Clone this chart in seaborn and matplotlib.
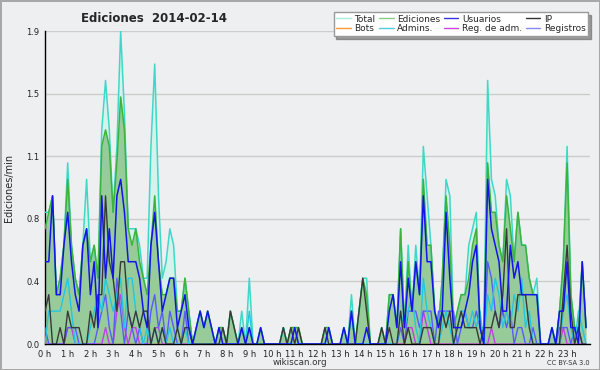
import matplotlib
matplotlib.use("Agg")
import matplotlib.pyplot as plt
from matplotlib.lines import Line2D
import numpy as np
import pandas as pd
import seaborn as sns

# ediciones/min, one value per 10-minute slot (144 slots = 24 h)
total = [
    0.8, 0.8, 0.9, 0.3, 0.4, 0.6, 1.1, 0.6, 0.4, 0.3, 0.6, 1.0,
    0.5, 0.6, 0.4, 1.3, 1.6, 1.3, 0.8, 1.2, 1.9, 1.4, 0.7, 0.7,
    0.7, 0.6, 0.4, 0.4, 1.2, 1.7, 0.9, 0.4, 0.5, 0.7, 0.6, 0.2,
    0.2, 0.4, 0.2, 0, 0.1, 0.2, 0.1, 0.2, 0.1, 0, 0.1, 0.1,
    0, 0.2, 0.1, 0, 0.2, 0, 0.4, 0, 0, 0.1, 0, 0,
    0, 0, 0, 0.1, 0, 0.1, 0.1, 0.1, 0, 0, 0, 0,
    0, 0, 0.1, 0.1, 0, 0, 0, 0.1, 0, 0.3, 0, 0.2,
    0.4, 0.4, 0, 0, 0, 0.1, 0, 0.3, 0.3, 0.1, 0.7, 0.1,
    0.6, 0.2, 0.6, 0.3, 1.2, 0.9, 0.6, 0.2, 0.1, 0.4, 1.0, 0.9,
    0.1, 0.2, 0.3, 0.3, 0.6, 0.7, 0.8, 0.1, 0.1, 1.6, 1.0, 0.9,
    0.6, 0.5, 1.0, 0.9, 0.5, 0.8, 0.6, 0.6, 0.4, 0.3, 0.4, 0,
    0, 0, 0.1, 0, 0.2, 0.5, 1.2, 0.3, 0.1, 0.1, 0.5, 0.1,
]
ediciones = [
    0.7, 0.8, 0.9, 0.3, 0.4, 0.6, 1.0, 0.6, 0.4, 0.3, 0.6, 0.7,
    0.5, 0.6, 0.4, 1.2, 1.3, 1.2, 0.8, 1.1, 1.5, 1.3, 0.7, 0.6,
    0.7, 0.5, 0.4, 0.3, 0.6, 0.9, 0.5, 0.3, 0.3, 0.4, 0.4, 0.2,
    0.2, 0.4, 0.2, 0, 0.1, 0.2, 0.1, 0.2, 0.1, 0, 0.1, 0.1,
    0, 0.2, 0.1, 0, 0.1, 0, 0.1, 0, 0, 0.1, 0, 0,
    0, 0, 0, 0.1, 0, 0.1, 0.1, 0.1, 0, 0, 0, 0,
    0, 0, 0.1, 0.1, 0, 0, 0, 0.1, 0, 0.2, 0, 0.2,
    0.4, 0.3, 0, 0, 0, 0.1, 0, 0.3, 0.3, 0.1, 0.7, 0.1,
    0.5, 0.2, 0.5, 0.3, 1.0, 0.6, 0.6, 0.2, 0.1, 0.4, 0.9, 0.6,
    0.1, 0.2, 0.3, 0.3, 0.4, 0.6, 0.7, 0.1, 0.1, 1.1, 0.8, 0.8,
    0.6, 0.5, 0.9, 0.7, 0.5, 0.8, 0.6, 0.6, 0.4, 0.3, 0.3, 0,
    0, 0, 0.1, 0, 0.2, 0.5, 1.1, 0.3, 0.1, 0.1, 0.5, 0.1,
]
usuarios = [
    0.5, 0.5, 0.9, 0.3, 0.3, 0.6, 0.8, 0.5, 0.3, 0.2, 0.6, 0.7,
    0.3, 0.5, 0.1, 0.9, 0.4, 0.7, 0.4, 0.9, 1.0, 0.8, 0.5, 0.5,
    0.5, 0.4, 0.2, 0.1, 0.6, 0.8, 0.5, 0.2, 0.3, 0.4, 0.4, 0.1,
    0.2, 0.3, 0.1, 0, 0.1, 0.2, 0.1, 0.2, 0.1, 0, 0.1, 0,
    0, 0, 0, 0, 0.1, 0, 0.1, 0, 0, 0.1, 0, 0,
    0, 0, 0, 0, 0, 0, 0.1, 0, 0, 0, 0, 0,
    0, 0, 0, 0.1, 0, 0, 0, 0.1, 0, 0.2, 0, 0,
    0, 0.1, 0, 0, 0, 0, 0, 0.2, 0.3, 0.1, 0.5, 0.1,
    0.4, 0.2, 0.5, 0.3, 0.9, 0.5, 0.5, 0.2, 0.1, 0.2, 0.8, 0.4,
    0.1, 0.1, 0.1, 0.2, 0.3, 0.5, 0.6, 0.1, 0, 1.0, 0.7, 0.6,
    0.5, 0.2, 0.2, 0.6, 0.4, 0.5, 0.3, 0.3, 0.3, 0.3, 0.3, 0,
    0, 0, 0.1, 0, 0.2, 0.2, 0.5, 0.1, 0.1, 0, 0.5, 0.1,
]
ip = [
    0.2, 0.3, 0, 0, 0.1, 0, 0.2, 0.1, 0.1, 0.1, 0, 0,
    0.2, 0.1, 0.3, 0.3, 0.9, 0.5, 0.4, 0.2, 0.5, 0.5, 0.2, 0.1,
    0.2, 0.1, 0.2, 0.2, 0, 0.1, 0, 0.1, 0, 0, 0, 0.1,
    0, 0.1, 0.1, 0, 0, 0, 0, 0, 0, 0, 0, 0.1,
    0, 0.2, 0.1, 0, 0, 0, 0, 0, 0, 0, 0, 0,
    0, 0, 0, 0.1, 0, 0.1, 0, 0.1, 0, 0, 0, 0,
    0, 0, 0.1, 0, 0, 0, 0, 0, 0, 0, 0, 0.2,
    0.4, 0.2, 0, 0, 0, 0.1, 0, 0.1, 0, 0, 0.2, 0,
    0.1, 0, 0, 0, 0.1, 0.1, 0.1, 0, 0, 0.2, 0.1, 0.2,
    0, 0.1, 0.2, 0.1, 0.1, 0.1, 0.1, 0, 0.1, 0.1, 0.1, 0.2,
    0.1, 0.3, 0.7, 0.1, 0.1, 0.3, 0.3, 0.3, 0.1, 0, 0, 0,
    0, 0, 0, 0, 0, 0.3, 0.6, 0.2, 0, 0.1, 0, 0,
]
bots = [0] * 144
admins = [
    0, 0.2, 0.2, 0.2, 0.2, 0.3, 0.4, 0.2, 0, 0, 0, 0,
    0.1, 0.2, 0.3, 0.2, 0.4, 0.3, 0.2, 0.3, 0.4, 0.1, 0.4, 0.4,
    0.2, 0.1, 0, 0.1, 0, 0.1, 0, 0.1, 0, 0.1, 0, 0,
    0, 0.1, 0, 0, 0, 0, 0, 0, 0, 0, 0, 0,
    0, 0, 0, 0, 0, 0, 0.2, 0, 0, 0, 0, 0,
    0, 0, 0, 0.1, 0, 0, 0, 0, 0, 0, 0, 0,
    0, 0, 0, 0, 0, 0, 0, 0, 0, 0.2, 0, 0,
    0, 0, 0, 0, 0, 0, 0, 0, 0, 0, 0.2, 0.1,
    0.2, 0.3, 0.1, 0, 0.4, 0.2, 0.1, 0, 0, 0.1, 0.2, 0.1,
    0, 0.1, 0.2, 0.2, 0.1, 0.2, 0.1, 0.2, 0, 0.3, 0.2, 0.4,
    0.3, 0.1, 0.2, 0.1, 0.3, 0.2, 0.4, 0.1, 0.2, 0, 0, 0,
    0, 0, 0, 0, 0, 0.2, 0.3, 0.1, 0, 0.2, 0.1, 0,
]
reg_adm = [
    0, 0, 0, 0, 0, 0, 0.1, 0.1, 0, 0, 0, 0,
    0, 0, 0, 0, 0.1, 0, 0, 0.2, 0.3, 0.1, 0, 0.1,
    0.1, 0, 0, 0, 0, 0.1, 0.1, 0, 0, 0, 0, 0,
    0, 0, 0, 0, 0, 0, 0, 0, 0, 0, 0, 0,
    0, 0, 0, 0, 0, 0, 0, 0, 0, 0, 0, 0,
    0, 0, 0, 0, 0, 0, 0, 0, 0, 0, 0, 0,
    0, 0, 0, 0, 0, 0, 0, 0, 0, 0, 0, 0,
    0, 0, 0, 0, 0, 0, 0, 0, 0, 0, 0, 0,
    0.1, 0.1, 0, 0, 0.2, 0.1, 0, 0, 0, 0, 0, 0,
    0, 0, 0, 0, 0, 0, 0, 0, 0, 0, 0.1, 0,
    0, 0, 0, 0, 0, 0, 0, 0, 0, 0, 0, 0,
    0, 0, 0, 0, 0, 0.1, 0, 0, 0, 0, 0, 0,
]
registros = [
    0.1, 0, 0, 0, 0, 0, 0.1, 0.1, 0.1, 0, 0, 0,
    0, 0, 0.1, 0.2, 0.3, 0.1, 0, 0.4, 0.2, 0, 0.2, 0.1,
    0, 0.1, 0, 0, 0.2, 0.3, 0.1, 0.2, 0, 0.2, 0.1, 0,
    0, 0.2, 0, 0, 0, 0, 0, 0, 0, 0, 0, 0,
    0, 0, 0, 0, 0, 0, 0, 0, 0, 0, 0, 0,
    0, 0, 0, 0, 0, 0, 0, 0, 0, 0, 0, 0,
    0, 0, 0, 0, 0, 0, 0, 0, 0, 0, 0, 0,
    0, 0, 0, 0, 0, 0, 0, 0, 0, 0, 0.1, 0,
    0.2, 0.2, 0.2, 0.1, 0.2, 0.2, 0.2, 0, 0.2, 0.2, 0.2, 0.2,
    0.2, 0, 0.1, 0.2, 0.1, 0.1, 0.2, 0.1, 0, 0.5, 0.4, 0.2,
    0.1, 0.2, 0.1, 0.2, 0, 0.1, 0.1, 0, 0, 0.1, 0, 0,
    0, 0, 0, 0, 0.1, 0.1, 0.1, 0, 0.1, 0.1, 0, 0,
]
hour_labels = [f"{h} h" for h in range(24)]
y_max = 1.9

df = pd.DataFrame({
    "hora": np.arange(144) / 6,
    "Total": total, "Ediciones": ediciones, "Usuarios": usuarios, "IP": ip,
    "Bots": bots, "Admins.": admins, "Reg. de adm.": reg_adm, "Registros": registros,
})

sns.set_style("white")
plt.rcParams["font.family"] = ["DejaVu Sans"]

bg = "#eeeff0"
fig = plt.figure(figsize=(6, 3.7), dpi=100, facecolor=bg)
fig.patch.set_edgecolor("#a8a8a8")
fig.patch.set_linewidth(2)
ax = fig.add_axes([0.075, 0.07, 0.908, 0.846])
ax.set_facecolor(bg)

# fills
ax.fill_between(df["hora"], 0, df["Total"], color="#d4f3ea", alpha=0.9, lw=0, zorder=1)
ax.fill_between(df["hora"], 0, df["Ediciones"], color="#8cc68c", alpha=0.85, lw=0, zorder=2)

line_styles = [
    ("Total", "#3fd8c8", 1.1),
    ("Ediciones", "#3cb43c", 1.1),
    ("Bots", "#ff9933", 1.0),
    ("Reg. de adm.", "#c040e0", 1.0),
    ("Registros", "#5a5aff", 1.0),
    ("Admins.", "#22c8e0", 1.0),
    ("IP", "#383838", 1.0),
    ("Usuarios", "#1414e8", 1.1),
]
for i, (col, c, lw) in enumerate(line_styles):
    sns.lineplot(data=df, x="hora", y=col, ax=ax, color=c, lw=lw, zorder=3 + i)

ax.set_xlim(0, 24)
ax.set_ylim(0, y_max)
yt = np.linspace(0, y_max, 6)
ax.set_yticks(yt)
ax.set_yticklabels([f"{v:.1f}" for v in yt])
ax.set_yticks(np.linspace(0, y_max, 21), minor=True)
ax.set_xticks(range(24))
ax.set_xticklabels(hour_labels)
ax.set_xticks(np.arange(0, 24, 1 / 6), minor=True)
ax.tick_params(axis="both", which="both", direction="out", color="black",
               width=1, labelsize=6, pad=0.5, labelcolor="#222222")
ax.tick_params(axis="both", which="major", length=3.5)
ax.tick_params(axis="both", which="minor", length=3)
ax.grid(axis="y", color="#cccccc", lw=1)
ax.set_axisbelow(True)
for s in ["top", "right"]:
    ax.spines[s].set_visible(False)
for s in ["left", "bottom"]:
    ax.spines[s].set_color("black")
    ax.spines[s].set_linewidth(1)
ax.set_xlabel("")
ax.set_ylabel("Ediciones/min", fontsize=7, labelpad=9)

fig.text(0.257, 0.949, "Ediciones  2014-02-14", fontsize=8.5, fontweight="bold",
         ha="center", va="center")
fig.text(0.5, 0.02, "wikiscan.org", fontsize=6.3, ha="center", va="center", color="#333333")
fig.text(0.983, 0.02, "CC BY-SA 3.0", fontsize=4.8, ha="right", va="center", color="#333333")

legend_colors = {
    "Total": "#a8ecdc", "Ediciones": "#88cc88", "Usuarios": "#3333dd", "IP": "#333333",
    "Bots": "#ff9933", "Admins.": "#55ccdd", "Reg. de adm.": "#cc44dd", "Registros": "#8888ee",
}
order = ["Total", "Bots", "Ediciones", "Admins.", "Usuarios", "Reg. de adm.", "IP", "Registros"]
handles = [Line2D([], [], color=legend_colors[k], lw=1) for k in order]
leg = fig.legend(handles, order, ncol=4, loc="upper right", bbox_to_anchor=(0.988, 0.98),
                 fontsize=6.5, frameon=True, fancybox=False, shadow=True,
                 handlelength=1.6, handletextpad=0.4, columnspacing=0.4,
                 labelspacing=0.05, borderpad=0.3)
leg.get_frame().set_edgecolor("#999999")
leg.get_frame().set_linewidth(1)

fig.savefig("out.png", dpi=100, facecolor=bg, edgecolor=fig.get_edgecolor())
